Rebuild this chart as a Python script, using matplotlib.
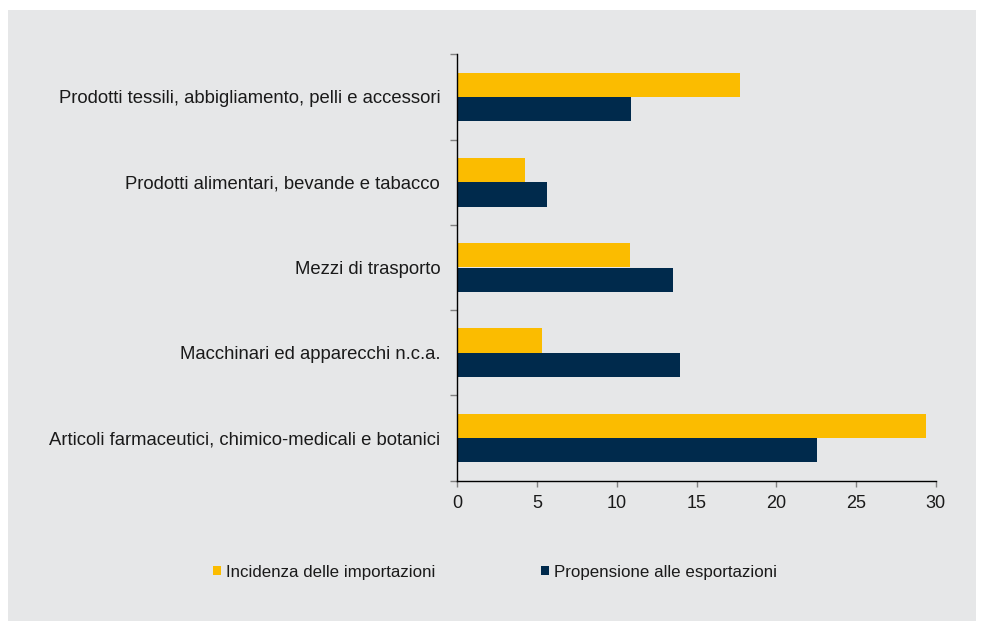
import numpy as np
import matplotlib
matplotlib.use("Agg")
import matplotlib.pyplot as plt
from matplotlib.patches import Rectangle, Patch

plt.rcParams["font.family"] = ["Liberation Sans", "DejaVu Sans"]

# categories listed bottom -> top
categories = [
    "Articoli farmaceutici, chimico-medicali e botanici",
    "Macchinari ed apparecchi n.c.a.",
    "Mezzi di trasporto",
    "Prodotti alimentari, bevande e tabacco",
    "Prodotti tessili, abbigliamento, pelli e accessori",
]
importazioni = [29.4, 5.3, 10.8, 4.25, 17.7]
esportazioni = [22.55, 13.95, 13.55, 5.6, 10.9]
series_names = ["Incidenza delle importazioni", "Propensione alle esportazioni"]

YELLOW = "#fbbc00"
NAVY = "#002a4c"
BG = "#e6e7e8"
TXT = "#1a1a1a"

fig = plt.figure(figsize=(9.84, 6.23), dpi=100)
fig.patch.set_facecolor("white")
# grey panel behind the chart
fig.patches.append(Rectangle((8 / 984, 1 - 621 / 623), 968 / 984, 611 / 623,
                             transform=fig.transFigure, facecolor=BG, edgecolor="none", zorder=-1))

ax = fig.add_axes([457.3 / 984, 1 - 480.7 / 623, 478.4 / 984, 426.4 / 623])
ax.set_facecolor("none")
ax.set_zorder(1)

y = np.arange(len(categories))
h = 0.285
ax.barh(y + h / 2, importazioni, height=h, color=YELLOW, zorder=2)
ax.barh(y - h / 2, esportazioni, height=h, color=NAVY, zorder=2)

ax.set_xlim(0, 30)
ax.set_ylim(-0.5, len(categories) - 0.5)
ax.set_xticks(np.arange(0, 31, 5))
ax.tick_params(axis="x", direction="out", length=4, width=1, color="#808080",
               labelsize=13, labelcolor=TXT, pad=6.5)

# boundary ticks on the category axis, labels centred between them
ax.set_yticks(np.arange(-0.5, len(categories), 1.0))
ax.set_yticklabels([])
ax.set_yticks(y, minor=True)
ax.set_yticklabels(categories, minor=True)
ax.tick_params(axis="y", which="major", direction="out", length=5, width=1, color="#808080")
ax.tick_params(axis="y", which="minor", length=0, pad=12.3, labelsize=13.3, labelcolor=TXT)

for s in ["top", "right"]:
    ax.spines[s].set_visible(False)
for s in ["left", "bottom"]:
    ax.spines[s].set_color("black")
    ax.spines[s].set_linewidth(1)

handles = [Patch(facecolor=YELLOW, edgecolor="none"), Patch(facecolor=NAVY, edgecolor="none")]
fig.legend(handles, series_names, loc="center left", bbox_to_anchor=(198 / 984, 1 - 572 / 623),
           ncol=2, frameon=False, fontsize=12.2, handlelength=0.47, handleheight=0.47,
           handletextpad=0.3, columnspacing=6.2, labelcolor=TXT)

fig.savefig("out.png", dpi=100, facecolor=fig.get_facecolor())
